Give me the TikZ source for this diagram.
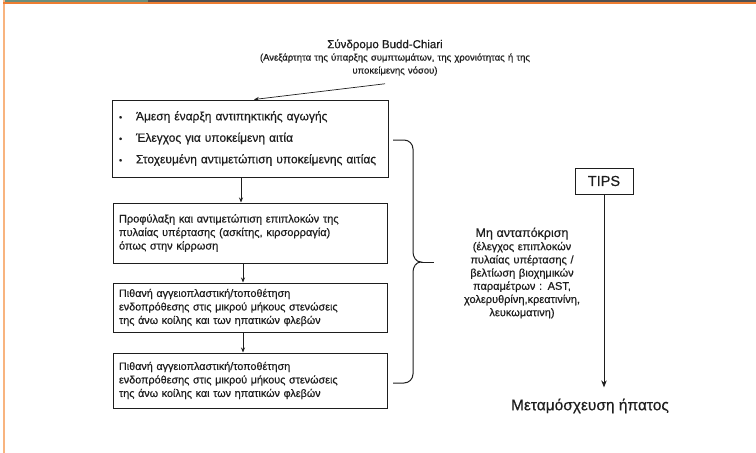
\documentclass[tikz,border=0pt]{standalone}
\usepackage{fontspec}
\setmainfont{Liberation Sans}[FakeBold=0.4]
\usetikzlibrary{arrows.meta}
\definecolor{frameorange}{HTML}{F8B47F}
\definecolor{barorange}{HTML}{EE7D31}
\definecolor{bargreen}{HTML}{6A8E7C}
\definecolor{bargray}{HTML}{505050}
\definecolor{ink}{HTML}{1E1E1E}
\begin{document}
\begin{tikzpicture}[x=1pt,y=-1pt,
  every node/.style={text=ink},
  box/.style={draw=ink, line width=1pt, minimum width=274pt, inner xsep=6pt, inner ysep=0pt,
              text width=262pt, align=left, font=\fontsize{11}{13.5}\selectfont},
  arr/.style={draw=ink, line width=0.8pt, -{Stealth[length=5pt,width=4pt]}},
  bline/.style={draw=ink, line width=1pt}
]
\useasboundingbox (0,0) rectangle (756,453);
\fill[white] (0,0) rectangle (756,453);
% frame
\fill[frameorange] (3,0) rectangle (5,453);
\fill[bargray] (5,0) rectangle (756,2.2);
\fill[bargreen] (5,0) rectangle (148,2.2);
\fill[barorange] (3,2.2) rectangle (756,3.6);

% title
\node (title) at (385,45) {\fontsize{11.5}{13}\selectfont Σύνδρομο Budd-Chiari};
\node[align=center, text width=300pt, font=\fontsize{9.5}{13}\selectfont, inner sep=1pt] (sub) at (395,64.5)
  {(Ανεξάρτητα της ύπαρξης συμπτωμάτων, της χρονιότητας ή της\\ υποκείμενης νόσου)};

% boxes
\node[box, minimum height=77pt, font=\fontsize{12}{21.5}\selectfont, inner xsep=7pt] (b1) at (250,138.5)
  {\makebox[17pt][l]{\small •}Άμεση έναρξη αντιπηκτικής αγωγής\\
   \makebox[17pt][l]{\small •}Έλεγχος για υποκείμενη αιτία\\
   \makebox[17pt][l]{\small •}Στοχευμένη αντιμετώπιση υποκείμενης αιτίας};
\node[box, minimum height=60pt] (b2) at (250,233)
  {Προφύλαξη και αντιμετώπιση επιπλοκών της\\ πυλαίας υπέρτασης (ασκίτης, κιρσορραγία)\\ όπως στην κίρρωση};
\node[box, minimum height=49pt, font=\fontsize{10.8}{13.5}\selectfont] (b3) at (250,307.5)
  {Πιθανή αγγειοπλαστική/τοποθέτηση\\ ενδοπρόθεσης στις μικρού μήκους στενώσεις\\ της άνω κοίλης και των ηπατικών φλεβών};
\node[box, minimum height=55pt, font=\fontsize{10.8}{13.5}\selectfont] (b4) at (250,380.5)
  {Πιθανή αγγειοπλαστική/τοποθέτηση\\ ενδοπρόθεσης στις μικρού μήκους στενώσεις\\ της άνω κοίλης και των ηπατικών φλεβών};

% arrows
\draw[arr, line width=0.7pt] ([xshift=-10pt,yshift=-7pt]sub.south) -- ([xshift=4pt]b1.north);
\draw[arr] ([xshift=-9pt]b1.south) -- ([xshift=-9pt]b2.north);
\draw[arr] ([xshift=-7pt]b2.south) -- ([xshift=-7pt]b3.north);
\draw[arr] ([xshift=-7pt]b3.south) -- ([xshift=-7pt]b4.north);

% brace
\draw[bline] (393,140) -- (404,140) to[out=0,in=90] (413,149) -- (413,252)
  to[out=-90,in=180] (421,262) to[out=180,in=90] (413,272) -- (413,374)
  to[out=-90,in=0] (404,383) -- (393,383);
\draw[bline] (421,262) -- (434,262);

% right text
\node[align=center, text width=170pt, font=\fontsize{11}{13.2}\selectfont, inner sep=0pt] (nr) at (522,273)
  {{\fontsize{12.5}{13.2}\selectfont Μη ανταπόκριση}\\ (έλεγχος επιπλοκών\\ πυλαίας υπέρτασης /\\ βελτίωση βιοχημικών\\ παραμέτρων : AST,\\ χολερυθρίνη,κρεατινίνη,\\ λευκωματινη)};

% TIPS
\node[draw=ink, line width=1pt, minimum width=58pt, minimum height=26pt, inner sep=0pt,
      font=\fontsize{14.5}{16}\selectfont] (tips) at (604,181) {TIPS};
\node[font=\fontsize{15.5}{18}\selectfont, inner sep=0pt] (lt) at (590,406) {Μεταμόσχευση ήπατος};
\draw[arr, -{Stealth[length=7pt,width=5.5pt]}] (tips.south) -- ([yshift=11pt]tips.south |- lt.north);
\end{tikzpicture}
\end{document}
